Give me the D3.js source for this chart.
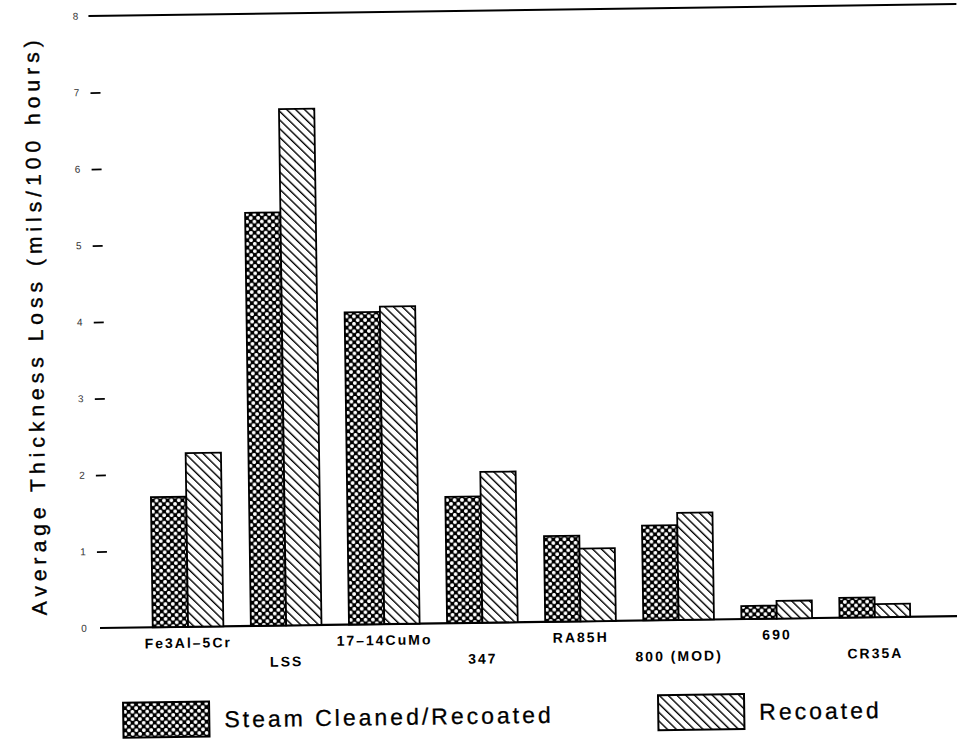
<!DOCTYPE html>
<html>
<head>
<meta charset="utf-8">
<script src="https://cdn.jsdelivr.net/npm/d3@7/dist/d3.min.js"></script>
<style>
  html, body { margin: 0; padding: 0; background: #fff; }
  svg { display: block; }
  text { font-family: "Liberation Sans", Arial, Helvetica, sans-serif; fill: #000; }
</style>
</head>
<body>
<svg id="chart" width="957" height="740"></svg>
<script>
// ---- data ----
const categories = ["Fe3Al\u20135Cr", "LSS", "17\u201314CuMo", "347", "RA85H", "800 (MOD)", "690", "CR35A"];
const steamCleaned = [1.70, 5.40, 4.08, 1.65, 1.12, 1.24, 0.17, 0.26];
const recoated     = [2.27, 6.75, 4.15, 1.97, 0.95, 1.40, 0.23, 0.17];
const seriesNames  = ["Steam Cleaned/Recoated", "Recoated"];
const yTicks       = [0, 1, 2, 3, 4, 5, 6, 7, 8];
const yTitle       = "Average Thickness Loss (mils/100 hours)";

const rows = categories.map((c, i) => ({cat: c, values: [steamCleaned[i], recoated[i]]}));

const svg = d3.select("#chart");
const defs = svg.append("defs");

// dotted (steam cleaned) pattern: black with white dots
const pDots = defs.append("pattern").attr("id", "dots")
  .attr("patternUnits", "userSpaceOnUse").attr("width", 7.4).attr("height", 7.4);
pDots.append("rect").attr("width", 7.4).attr("height", 7.4).attr("fill", "#000");
pDots.append("circle").attr("cx", 1.85).attr("cy", 1.85).attr("r", 1.9).attr("fill", "#fff");
pDots.append("circle").attr("cx", 5.55).attr("cy", 5.55).attr("r", 1.9).attr("fill", "#fff");

// hatched (recoated) pattern: white with black "\" lines
const pHatch = defs.append("pattern").attr("id", "hatch")
  .attr("patternUnits", "userSpaceOnUse").attr("width", 6.2).attr("height", 6.2)
  .attr("patternTransform", "rotate(-45)");
pHatch.append("rect").attr("width", 6.2).attr("height", 6.2).attr("fill", "#fff");
pHatch.append("line").attr("x1", 0).attr("y1", 0).attr("x2", 0).attr("y2", 6.2)
  .attr("stroke", "#000").attr("stroke-width", 2.8);

const fills = ["url(#dots)", "url(#hatch)"];

// whole figure slightly rotated like the scanned original
const g = svg.append("g").attr("transform", "rotate(-0.8, 100, 628)");

const y = d3.scaleLinear().domain([0, 8]).range([628, 16]);
const x = d3.scaleBand().domain(categories).range([139, 924])
  .paddingInner(0.28).paddingOuter(0.14);
const xs = d3.scaleBand().domain([0, 1]).range([0, x.bandwidth()]);

// top frame line (at 8) and baseline (at 0)
g.append("line").attr("x1", 97).attr("x2", 965).attr("y1", y(8)).attr("y2", y(8))
  .attr("stroke", "#000").attr("stroke-width", 2);
g.append("line").attr("x1", 100).attr("x2", 965).attr("y1", y(0)).attr("y2", y(0))
  .attr("stroke", "#000").attr("stroke-width", 2.2);

// y ticks (short dashes) and labels
const yAxis = d3.axisLeft(y).tickValues(yTicks.filter(t => t > 0 && t < 8))
  .tickSize(-10).tickPadding(0).tickFormat("");
const ya = g.append("g").attr("transform", "translate(98,0)").call(yAxis);
ya.select(".domain").remove();
ya.selectAll(".tick line").attr("stroke", "#000").attr("stroke-width", 1.8);

g.append("g").selectAll("text").data(yTicks).join("text")
  .attr("x", 84).attr("y", d => y(d)).attr("dy", "0.35em")
  .attr("text-anchor", "middle").attr("font-size", 10).style("fill", "#333")
  .text(d => d);

// bars
const grp = g.append("g").selectAll("g").data(rows).join("g")
  .attr("transform", d => `translate(${x(d.cat)},0)`);
grp.selectAll("rect").data(d => d.values.map((v, k) => ({v, k}))).join("rect")
  .attr("x", d => xs(d.k)).attr("width", xs.bandwidth())
  .attr("y", d => y(d.v)).attr("height", d => y(0) - y(d.v))
  .attr("fill", d => fills[d.k]).attr("stroke", "#000").attr("stroke-width", 1.8);

// category labels, staggered in two rows
g.append("g").selectAll("text").data(categories).join("text")
  .attr("x", d => x(d) + x.bandwidth() / 2)
  .attr("y", (d, i) => i % 2 === 0 ? 649 : 669)
  .attr("text-anchor", "middle").attr("font-size", 14).attr("font-weight", "bold")
  .attr("letter-spacing", 2)
  .text(d => d);

// y title
g.append("text").attr("transform", "translate(47,327) rotate(-90)")
  .attr("text-anchor", "middle").attr("font-size", 21)
  .attr("textLength", 575).attr("lengthAdjust", "spacing")
  .style("stroke", "#000").style("stroke-width", 0.4)
  .text(yTitle);

// legend
const legX = [122, 657];
const leg = g.append("g").selectAll("g").data(seriesNames).join("g")
  .attr("transform", (d, i) => `translate(${legX[i]},703)`);
leg.append("rect").attr("width", 86).attr("height", 35)
  .attr("fill", (d, i) => fills[i]).attr("stroke", "#000").attr("stroke-width", 2);
leg.append("text").attr("x", 101).attr("y", 26)
  .attr("font-size", 23).attr("letter-spacing", 3)
  .style("stroke", "#000").style("stroke-width", 0.3)
  .text(d => d);
</script>
</body>
</html>
